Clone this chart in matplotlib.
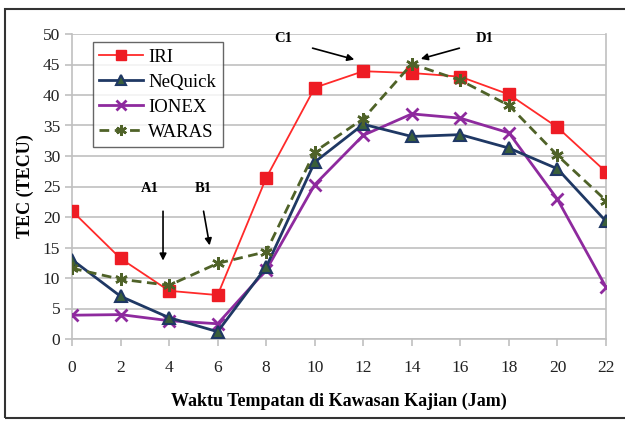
import matplotlib.pyplot as plt
from matplotlib.patches import Rectangle

hours = [0, 2, 4, 6, 8, 10, 12, 14, 16, 18, 20, 22]
iri = [21.0, 13.2, 7.9, 7.2, 26.4, 41.2, 43.9, 43.6, 43.0, 40.1, 34.7, 27.4]
nequick = [13.0, 7.0, 3.5, 1.2, 11.8, 29.0, 35.2, 33.2, 33.5, 31.3, 27.9, 19.3]
ionex = [3.9, 4.0, 3.0, 2.5, 11.3, 25.3, 33.4, 36.9, 36.2, 33.8, 22.9, 8.5]
waras = [11.6, 9.8, 8.8, 12.4, 14.3, 30.7, 36.1, 45.1, 42.4, 38.3, 30.1, 22.7]

plt.rcParams['font.family'] = ['Liberation Serif', 'DejaVu Serif']

fig = plt.figure(figsize=(6.25, 4.21), dpi=100)
ax = fig.add_axes([72 / 625, 1 - 339 / 421, (606 - 72) / 625, (339 - 34) / 421])

ax.plot(hours, iri, color='#ff2a2a', lw=1.3, marker='s', ms=8,
        mfc='#ee1c24', mec='#ee1c24', label='IRI', zorder=5)
ax.plot(hours, nequick, color='#1f3864', lw=2, marker='^', ms=8,
        mfc='#3a5f3a', mec='#1f3864', mew=1.5, label='NeQuick', zorder=4)
ax.plot(hours, ionex, color='#8e2a9e', lw=2, marker='x', ms=8, mew=2,
        label='IONEX', zorder=3)
ax.plot(hours, waras, color='#4f6228', lw=2, ls=(0, (3.5, 2)), marker=(6, 2, 0),
        ms=9, mew=1.8, label='WARAS', zorder=6)

ax.set_xlim(0, 22)
ax.set_ylim(0, 50)
ax.set_xticks(hours)
ax.set_yticks(range(0, 51, 5))
ax.yaxis.grid(True, color='#c0c0c0', lw=1.2)
ax.set_axisbelow(True)
for s in ax.spines.values():
    s.set_color('#c0c0c0')
    s.set_linewidth(1.2)
ax.spines['top'].set_visible(False)
ax.tick_params(axis='both', color='#c0c0c0', length=5, width=1.2,
               labelsize=12.5, labelcolor='#222222')
ax.tick_params(axis='x', pad=10)

ax.set_xlabel('Waktu Tempatan di Kawasan Kajian (Jam)', fontsize=13,
              fontweight='bold', labelpad=12)
ax.set_ylabel('TEC (TECU)', fontsize=13, fontweight='bold', labelpad=6)

leg = ax.legend(loc='upper left', bbox_to_anchor=(0.039, 0.974), fontsize=13.5,
                frameon=True, fancybox=False, handlelength=2.3, borderaxespad=0,
                borderpad=0.35, labelspacing=0.42, handletextpad=0.3, markerscale=0.85)
leg.get_frame().set_edgecolor('#404040')
leg.get_frame().set_linewidth(1)

arr = dict(arrowstyle='-|>', color='black', lw=1.2, mutation_scale=10)
ax.text(3.2, 24.7, 'A1', fontsize=10.5, fontweight='bold', ha='center', va='center')
ax.annotate('', xy=(3.75, 12.4), xytext=(3.75, 21.4), arrowprops=arr)
ax.text(5.4, 24.7, 'B1', fontsize=10.5, fontweight='bold', ha='center', va='center')
ax.annotate('', xy=(5.69, 14.9), xytext=(5.4, 21.4), arrowprops=arr)
ax.text(8.7, 49.3, 'C1', fontsize=10.5, fontweight='bold', ha='center', va='center')
ax.annotate('', xy=(11.74, 45.7), xytext=(9.8, 47.8), arrowprops=arr)
ax.text(17.0, 49.3, 'D1', fontsize=10.5, fontweight='bold', ha='center', va='center')
ax.annotate('', xy=(14.26, 45.8), xytext=(16.07, 47.8), arrowprops=arr)

fig.patches.append(Rectangle((5 / 625, 3 / 421), 1.1, (415 - 6) / 421,
                             transform=fig.transFigure, fill=False,
                             edgecolor='#333333', lw=1.5))

fig.savefig('out.png', dpi=100)
